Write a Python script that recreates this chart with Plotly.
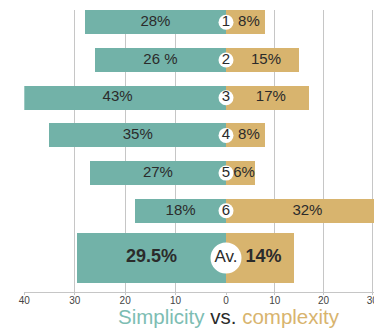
import plotly.graph_objects as go

# ---- data ----
categories = ["1", "2", "3", "4", "5", "6", "Av."]
simplicity = [28, 26, 43, 35, 27, 18, 29.5]
complexity = [8, 15, 17, 8, 6, 32, 14]
simplicity_labels = ["28%", "26 %", "43%", "35%", "27%", "18%", "<b>29.5%</b>"]
complexity_labels = ["8%", "15%", "17%", "8%", "6%", "32%", "<b>14%</b>"]
left_ticks = [40, 30, 20, 10, 0]
right_ticks = [10, 20, 30]

TEAL = "#72b2a8"
GOLD = "#d8b46e"
TEXT = "#2b2b2b"
GRID = "#c6c6c6"
FONT = "Liberation Sans, Arial, sans-serif"

n = len(categories)
# rows 1..6 evenly spaced, average row set a little lower
ypos = [i + 1 for i in range(n - 1)] + [n + 0.25]
widths = [0.64] * (n - 1) + [1.32]
label_sizes = [15] * (n - 1) + [18]
circle_sizes = [15] * (n - 1) + [31]
circle_text_sizes = [15] * (n - 1) + [17]

fig = go.Figure()

fig.add_trace(go.Bar(
    y=ypos, x=[-v for v in simplicity], width=widths, orientation="h",
    marker=dict(color=TEAL, line=dict(width=0)), xaxis="x", yaxis="y",
    hoverinfo="skip", showlegend=False))
fig.add_trace(go.Bar(
    y=ypos, x=complexity, width=widths, orientation="h",
    marker=dict(color=GOLD, line=dict(width=0)), xaxis="x2", yaxis="y",
    hoverinfo="skip", showlegend=False))

fig.add_trace(go.Scatter(
    y=ypos, x=[-v / 2 for v in simplicity], mode="text", text=simplicity_labels,
    textfont=dict(size=label_sizes, color=TEXT, family=FONT),
    xaxis="x", yaxis="y", hoverinfo="skip", showlegend=False, cliponaxis=False))
fig.add_trace(go.Scatter(
    y=ypos, x=[v / 2 + 0.7 for v in complexity], mode="text", text=complexity_labels,
    textfont=dict(size=label_sizes, color=TEXT, family=FONT),
    xaxis="x2", yaxis="y", hoverinfo="skip", showlegend=False, cliponaxis=False))

fig.add_trace(go.Scatter(
    y=ypos, x=[0] * n, mode="markers+text", text=categories,
    textposition="middle center",
    marker=dict(size=circle_sizes, color="white", opacity=1, line=dict(width=0)),
    textfont=dict(size=circle_text_sizes, color=TEXT, family=FONT),
    xaxis="x2", yaxis="y", hoverinfo="skip", showlegend=False, cliponaxis=False))

W, H = 374, 329
left_px, mid_px = 24.3, 226.0
axis_common = dict(
    showgrid=True, gridcolor=GRID, gridwidth=1.2, zeroline=False,
    showline=True, linecolor=GRID, linewidth=1.2,
    ticks="outside", ticklen=2, tickcolor=GRID, automargin=False,
    ticklabelstandoff=-3, ticklabeloverflow="allow",
    tickfont=dict(size=10, color="#444", family=FONT), fixedrange=True)

fig.update_layout(
    template="none",
    width=W, height=H,
    margin=dict(l=0, r=0, t=10, b=37, autoexpand=False),
    paper_bgcolor="white", plot_bgcolor="white",
    bargap=0, barmode="overlay",
    font=dict(family=FONT, color=TEXT),
    xaxis=dict(domain=[left_px / W, mid_px / W], range=[-40, 0],
               tickvals=[-t for t in left_ticks], ticktext=[str(t) for t in left_ticks],
               anchor="y", **axis_common),
    xaxis2=dict(domain=[mid_px / W, 1.0], range=[0, 30.35],
                tickvals=right_ticks, ticktext=[str(t) for t in right_ticks],
                anchor="y", **axis_common),
    yaxis=dict(range=[8.154, 0.674], visible=False, fixedrange=True, automargin=False),
    annotations=[dict(
        x=229.3 / W, y=-0.0875, xref="paper", yref="paper",
        xanchor="center", yanchor="middle", showarrow=False,
        text=(f"<span style='color:#7dbdb3'>Simplicity</span> "
              f"<span style='color:{TEXT}'>vs.</span> "
              f"<span style='color:{GOLD}'>complexity</span>"),
        font=dict(size=20.5, family=FONT))],
)

fig.write_html("out.html")
